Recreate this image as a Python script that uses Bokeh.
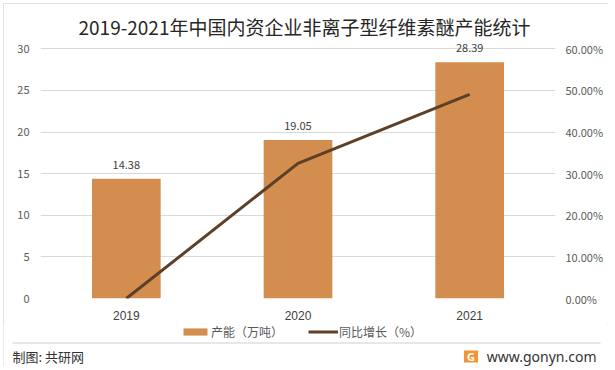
from bokeh.plotting import figure
from bokeh.layouts import column
from bokeh.models import (ColumnDataSource, Range1d, LinearAxis, FixedTicker,
                          PrintfTickFormatter, Legend, LegendItem, LabelSet,
                          Title)
from bokeh.core.properties import value
from bokeh.embed import file_html
from bokeh.resources import INLINE

# ---- data ----
years = ["2019", "2020", "2021"]
capacity = [14.38, 19.05, 28.39]          # 产能（万吨）
growth = [0.0, 32.47, 49.03]              # 同比增长（%）
cap_labels = ["14.38", "19.05", "28.39"]
left_ticks = [0, 5, 10, 15, 20, 25, 30]
right_ticks = [0, 10, 20, 30, 40, 50, 60]

title_text = "2019-2021年中国内资企业非离子型纤维素醚产能统计"
bar_name = "产能（万吨）"
line_name = "同比增长（%）"
source_text = "制图: 共研网"
site_text = "www.gonyn.com"

CJK = "Noto Sans CJK SC"
LAT = "Liberation Sans"
BAR = "#d38d4f"
LINE = "#5e3f27"
NAN = float("nan")

src = ColumnDataSource(dict(x=years, cap=capacity, g=growth, lab=cap_labels))

# ---------------- main chart ----------------
# y range 0..31 (ticks only to 30) so that the top value label is not clipped
p = figure(x_range=years, y_range=Range1d(0, 31),
           frame_width=515, frame_height=258,
           output_backend="svg", toolbar_location=None,
           min_border_left=37, min_border_right=53, min_border_top=37,
           min_border_bottom=26)
p.frame_align = False
p.x_range.range_padding = 0
p.outline_line_color = None
p.extra_y_ranges = {"pct": Range1d(0, 62)}

p.title = Title(text=title_text, align="left", offset=38, standoff=2,
                text_font=CJK, text_font_size="19px", text_font_style="normal",
                text_color="#262626")

bars = p.vbar(x="x", top="cap", width=0.4, source=src, fill_color=BAR,
              line_color=None)
line = p.line(x="x", y="g", source=src, y_range_name="pct",
              line_color=LINE, line_width=3)

p.xgrid.grid_line_color = None
p.ygrid.grid_line_color = "#d9d9d9"
p.ygrid.ticker = FixedTicker(ticks=left_ticks)

ax = p.yaxis[0]
ax.ticker = FixedTicker(ticks=left_ticks)
ax.axis_line_color = None
ax.major_tick_line_color = None
ax.minor_tick_line_color = None
ax.major_tick_out = 0
ax.major_label_standoff = 11
ax.major_label_text_font = CJK
ax.major_label_text_font_size = "11px"
ax.major_label_text_color = "#595959"

rax = LinearAxis(y_range_name="pct", ticker=FixedTicker(ticks=right_ticks),
                 formatter=PrintfTickFormatter(format="%.2f%%"))
rax.axis_line_color = None
rax.major_tick_line_color = None
rax.minor_tick_line_color = None
rax.major_tick_out = 0
rax.major_label_standoff = 10
rax.major_label_text_font = CJK
rax.major_label_text_font_size = "11px"
rax.major_label_text_color = "#595959"
p.add_layout(rax, "right")

xa = p.xaxis[0]
xa.axis_line_color = None
xa.major_tick_line_color = None
xa.minor_tick_line_color = None
xa.major_tick_out = 0
xa.major_label_standoff = 12
xa.major_label_text_font = LAT
xa.major_label_text_font_size = "12px"
xa.major_label_text_color = "#404040"

labels = LabelSet(x="x", y="cap", text="lab", source=src, text_align="center",
                  text_baseline="bottom", y_offset=10, text_font=value(CJK),
                  text_font_size=value("11px"), text_color="#404040")
p.add_layout(labels)

# ---------------- footer: legend, separator, credits ----------------
FW, FH = 605, 42
f = figure(x_range=Range1d(0, FW), y_range=Range1d(0, FH),
           frame_width=FW, frame_height=FH, min_border=0,
           output_backend="svg", toolbar_location=None,
           x_axis_type=None, y_axis_type=None)
f.frame_align = False
f.outline_line_color = None
f.xgrid.grid_line_color = None
f.ygrid.grid_line_color = None

# separator line under the legend
f.line(x=[9, 597], y=[23.5, 23.5], line_color="#cfcfcf", line_width=1)

# legend swatches with the series' styles (no visible data)
lg_bar = f.vbar(x=[NAN], top=[NAN], width=1, fill_color=BAR, line_color=None)
lg_line = f.line(x=[NAN], y=[NAN], line_color=LINE, line_width=3)
legend = Legend(items=[LegendItem(label=bar_name, renderers=[lg_bar]),
                       LegendItem(label=line_name, renderers=[lg_line])],
                orientation="horizontal", location=(177, 26),
                glyph_width=30, glyph_height=9, label_standoff=1, spacing=25,
                padding=0, margin=0, border_line_color=None,
                background_fill_alpha=0, label_text_font=CJK,
                label_text_font_size="12px", label_text_color="#595959",
                label_height=9)
f.add_layout(legend, "center")

f.text(x=[9], y=[10], text=[source_text], text_align="left",
       text_baseline="middle", text_font=value(CJK), text_font_size="13px",
       text_color="#333333")
f.text(x=[593], y=[10], text=[site_text], text_align="right",
       text_baseline="middle", text_font=value("Noto Sans"),
       text_font_size="14px", text_color="#333333")
f.rect(x=[467.5], y=[10], width=14, height=12, fill_color="#f29537",
       line_color=None)
f.text(x=[467.5], y=[10], text=["G"], text_align="center",
       text_baseline="middle", text_font=value("Noto Sans"),
       text_font_size="11px", text_font_style="bold", text_color="white")

layout = column(p, f, spacing=0, margin=(3, 0, 0, 3),
                styles={"outline": "1px solid #d9d9d9",
                        "outline-offset": "-1px"})

open("out.html", "w").write(file_html(layout, INLINE))
